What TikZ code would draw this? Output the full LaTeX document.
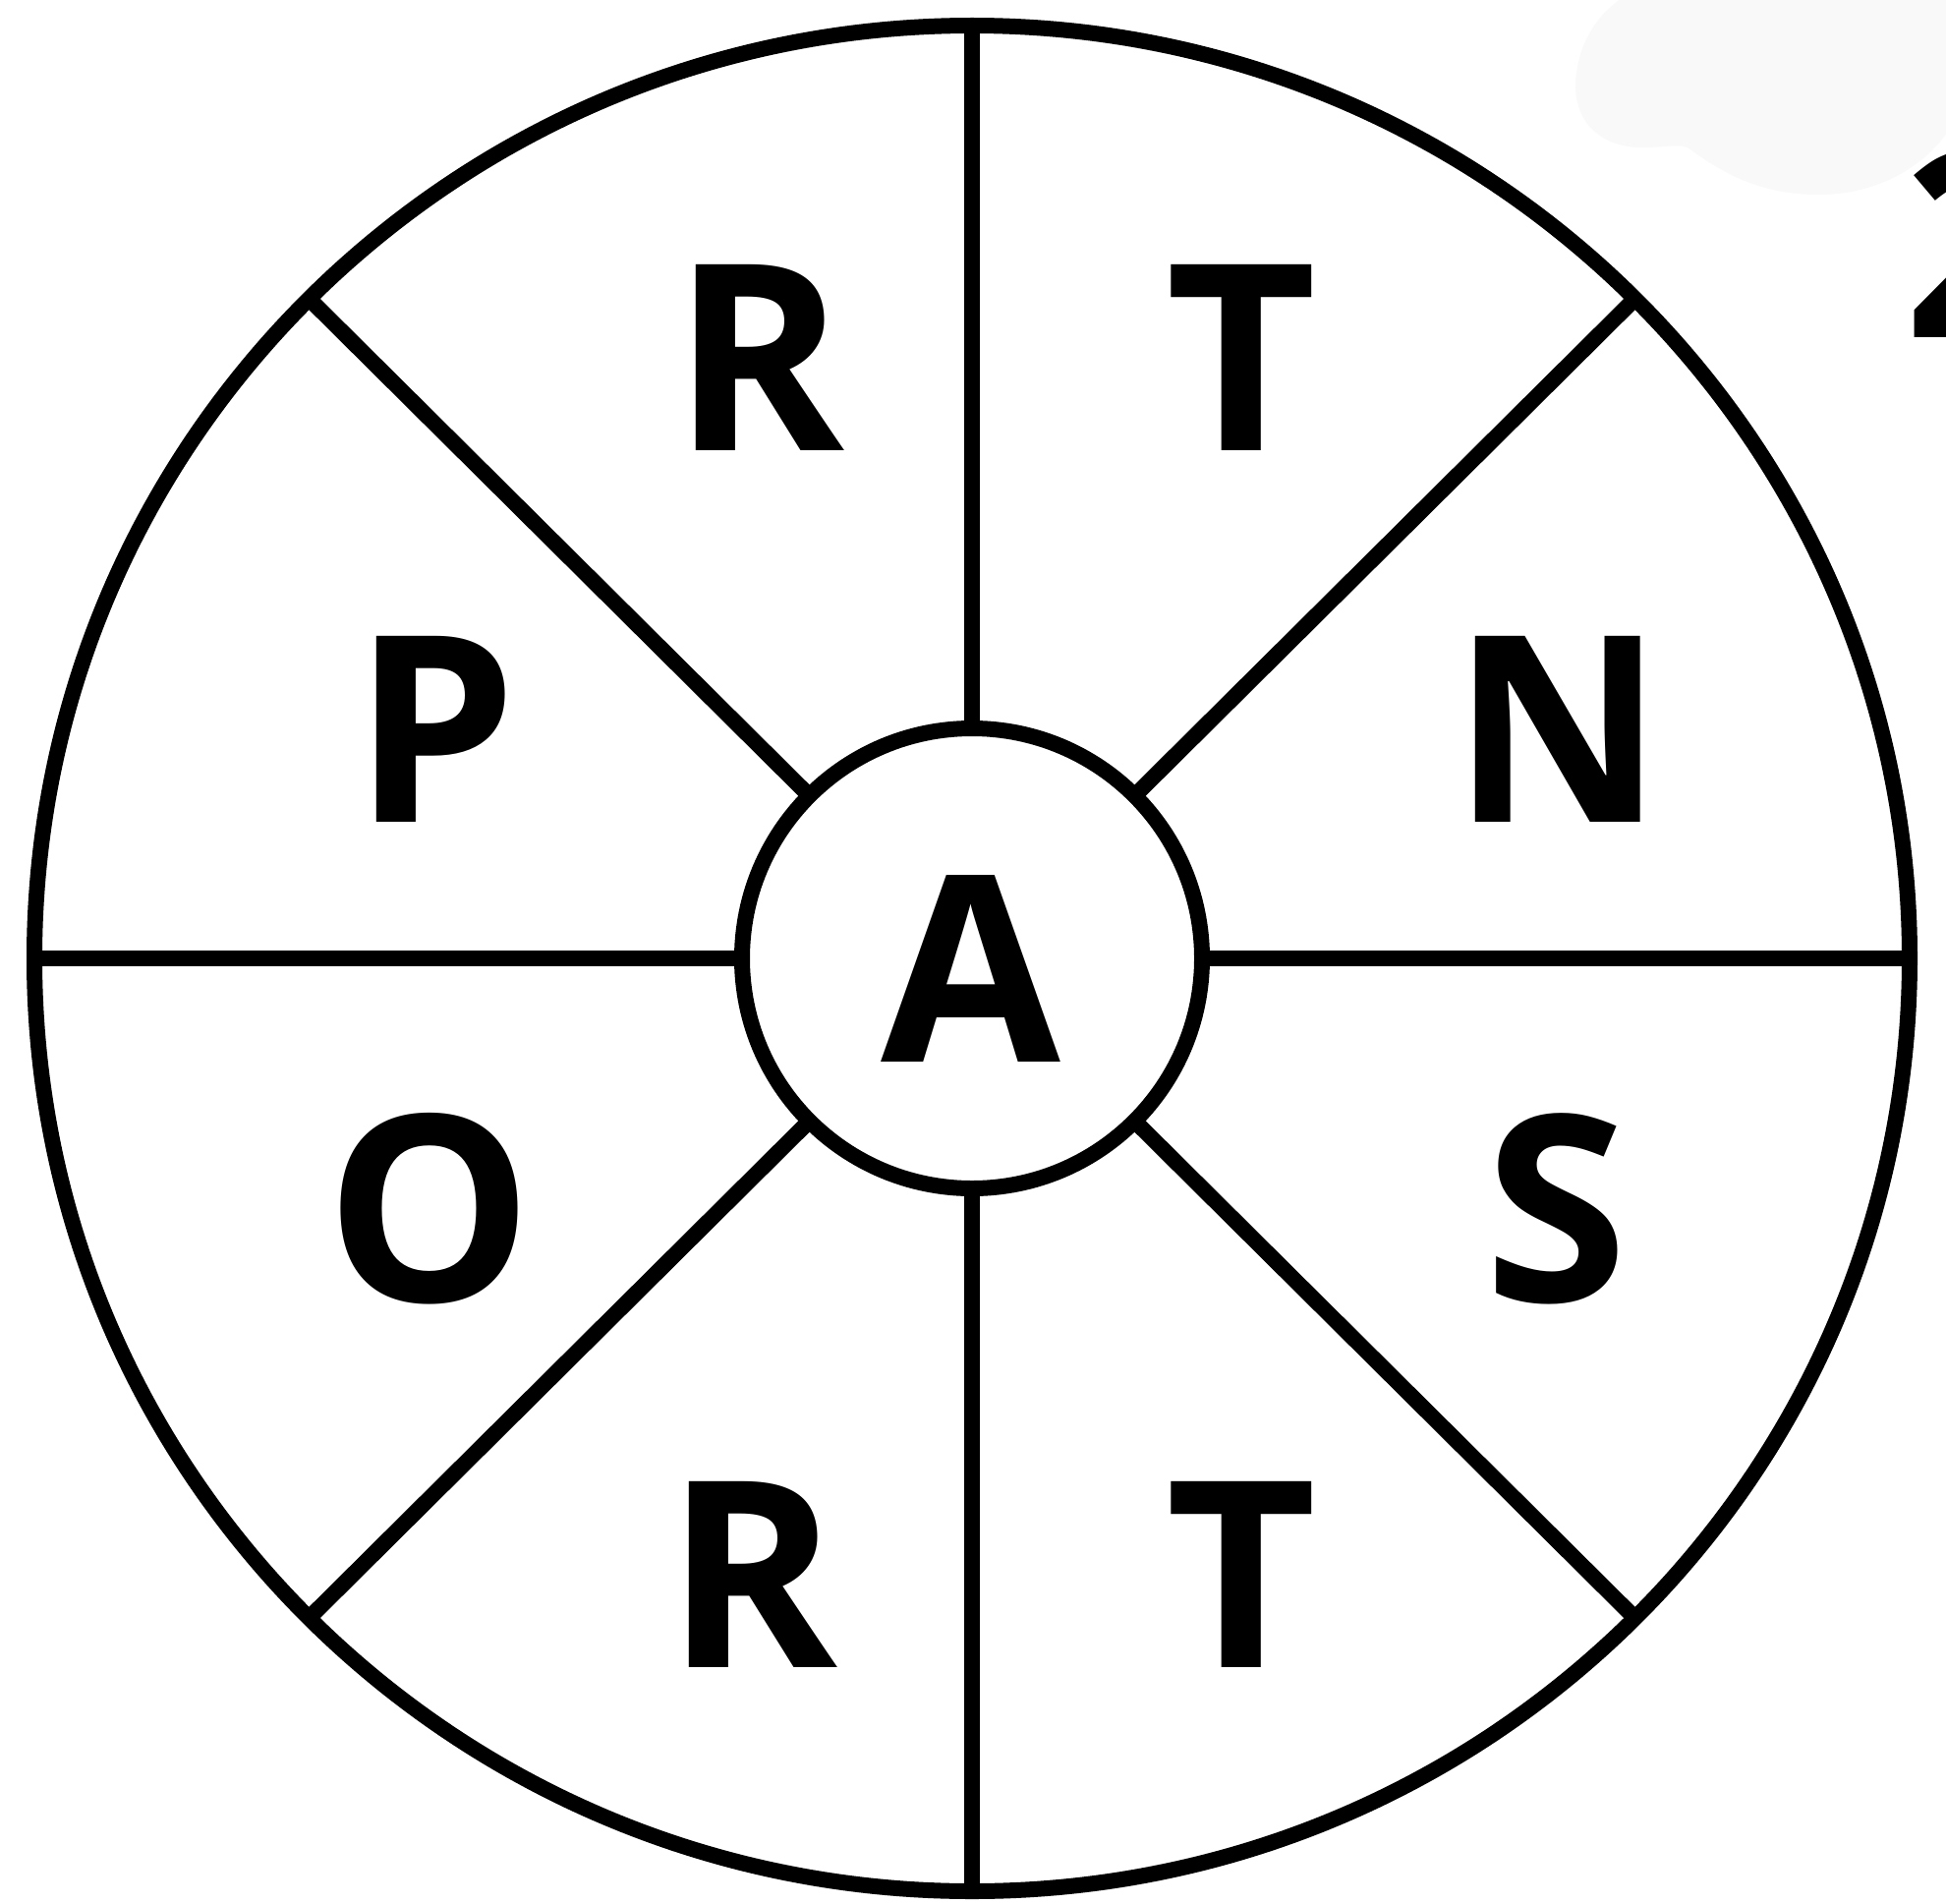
\documentclass[tikz,border=0pt]{standalone}
\usepackage{fontspec}
\setmainfont{Open Sans}
\definecolor{blobgray}{RGB}{249,249,249}
\begin{document}
\begin{tikzpicture}[x=1pt,y=-1pt,
  ring/.style={line width=16pt, draw=black},
  spoke/.style={line width=16pt, draw=black},
  letter/.style={font=\fontsize{265}{265}\selectfont\bfseries, anchor=base, inner sep=0pt, outer sep=0pt},
]
\useasboundingbox (0,0) rectangle (1980,1937);
\fill[white] (0,0) rectangle (1980,1937);
\begin{scope}
  \clip (0,0) rectangle (1980,1937);
  \fill[blobgray] (1655,-5) .. controls (1630,10) and (1605,40) .. (1603,85)
    .. controls (1602,125) and (1630,150) .. (1670,150)
    .. controls (1700,150) and (1710,145) .. (1720,152)
    .. controls (1760,182) and (1800,198) .. (1850,198)
    .. controls (1920,198) and (1970,160) .. (1990,120) -- (1990,-5) -- cycle;
  \node[letter] (two) at (2013,343) {2};
\end{scope}
% outer ring
\coordinate (c) at (989,975);
\draw[ring] (c) ellipse [x radius=954, y radius=949];
% spokes
\foreach \a in {0,45,...,315}{
  \coordinate (o\a) at ({989+954*cos(\a)},{975-949*sin(\a)});
}
\node[ring, circle, minimum size=468pt, inner sep=0pt, outer sep=0pt] (hub) at (c) {};
\foreach \a in {0,45,...,315}{
  \draw[spoke] (hub.\a) -- (o\a);
}
% letters
\node[letter] (r1) at (772,458) {R};
\node[letter] (t1) at (1263,458) {T};
\node[letter] (p) at (443,836) {P};
\node[letter] (n) at (1585,836) {N};
\node[letter] (a) at (988,1080) {A};
\node[letter] (o) at (437,1324) {O};
\node[letter] (s) at (1583,1324) {S};
\node[letter] (r2) at (765,1696) {R};
\node[letter] (t2) at (1263,1696) {T};
\end{tikzpicture}
\end{document}
